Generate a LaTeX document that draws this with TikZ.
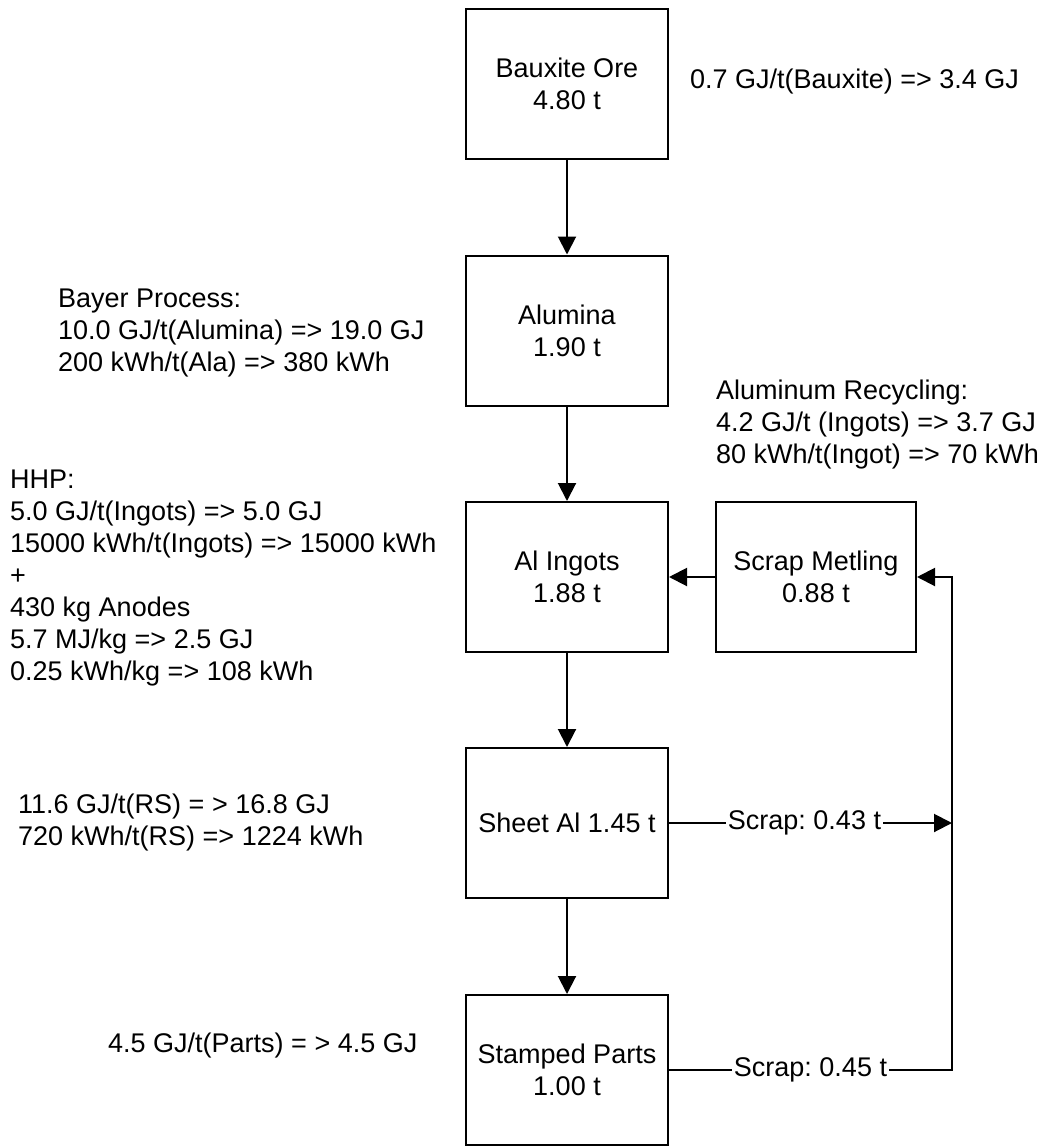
\documentclass[tikz,border=0pt]{standalone}
\usepackage{fontspec}
\setmainfont{Liberation Sans}
\usetikzlibrary{arrows.meta}

\tikzset{
  stage/.style={draw, line width=2pt, minimum width=202pt, minimum height=150pt,
                align=center, inner sep=0pt,
                font=\fontsize{27}{32}\selectfont},
  note/.style={align=left, anchor=west, inner sep=0pt,
               font=\fontsize{27}{32}\selectfont},
  flow/.style={line width=2pt, -{Triangle[length=18pt,width=18pt]}},
  tag/.style={fill=white, inner xsep=2pt, inner ysep=1pt,
              font=\fontsize{27}{32}\selectfont}
}

\begin{document}
\frenchspacing
\begin{tikzpicture}[x=1pt, y=-1pt]
  \useasboundingbox (0,0) rectangle (1052,1146);

  % main production chain
  \node[stage] (bauxite) at (567,83.5)  {Bauxite Ore\\4.80 t};
  \node[stage] (alumina) at (567,330.5) {Alumina\\1.90 t};
  \node[stage] (ingots)  at (567,577)   {Al Ingots\\1.88 t};
  \node[stage] (sheet)   at (567,823)   {Sheet Al 1.45 t};
  \node[stage] (parts)   at (567,1070)  {Stamped Parts\\1.00 t};
  \node[stage, minimum width=200pt] (melt) at (816,577) {Scrap Metling\\0.88 t};

  % energy notes
  \node[note] (nbaux) at (690,82) {0.7 GJ/t(Bauxite) => 3.4 GJ};
  \node[note] (nbayer) at (58,333) {Bayer Process:\\10.0 GJ/t(Alumina) => 19.0 GJ\\200 kWh/t(Ala) => 380 kWh};
  \node[note] (nrec) at (716,425) {Aluminum Recycling:\\4.2 GJ/t (Ingots) => 3.7 GJ\\80 kWh/t(Ingot) => 70 kWh};
  \node[note] (nhhp) at (10,578) {HHP:\\5.0 GJ/t(Ingots) => 5.0 GJ\\15000 kWh/t(Ingots) => 15000 kWh\\+\\430 kg Anodes\\5.7 MJ/kg => 2.5 GJ\\0.25 kWh/kg => 108 kWh};
  \node[note] (nroll) at (18,823) {11.6 GJ/t(RS) = > 16.8 GJ\\720 kWh/t(RS) => 1224 kWh};
  \node[note] (nstamp) at (108,1045) {4.5 GJ/t(Parts) = > 4.5 GJ};

  % scrap return line
  \coordinate (rbot) at (952,1070);
  \coordinate (rmid) at (952,823);

  % material flow
  \draw[flow] (bauxite) -- (alumina);
  \draw[flow] (alumina) -- (ingots);
  \draw[flow] (ingots) -- (sheet);
  \draw[flow] (sheet) -- (parts);
  \draw[flow] (melt) -- (ingots);
  \draw[flow] (parts.east) -- node[tag] {Scrap: 0.45 t} (rbot) |- (melt.east);
  \draw[flow] (sheet.east) -- node[tag, xshift=-6pt] {Scrap: 0.43 t} (rmid);
\end{tikzpicture}
\end{document}
